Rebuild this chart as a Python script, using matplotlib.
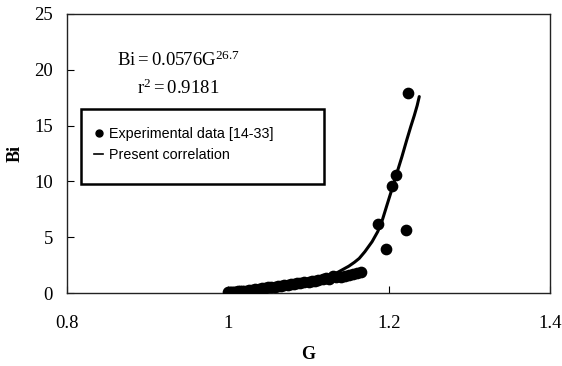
import matplotlib
matplotlib.use('Agg')
import matplotlib.pyplot as plt
from matplotlib.patches import Rectangle
from matplotlib.lines import Line2D

plt.rcParams['font.family'] = 'Liberation Serif'
plt.rcParams['mathtext.fontset'] = 'custom'
plt.rcParams['mathtext.rm'] = 'Liberation Serif'
plt.rcParams['mathtext.it'] = 'Liberation Serif'

g_exp = [1.000, 1.002, 1.004, 1.006, 1.008, 1.010, 1.012, 1.015, 1.018, 1.020,
         1.023, 1.026, 1.030, 1.034, 1.038, 1.042, 1.046, 1.050, 1.054, 1.058,
         1.062, 1.066, 1.070, 1.074, 1.078, 1.082, 1.086, 1.090, 1.095, 1.100,
         1.104, 1.108, 1.112, 1.118, 1.122, 1.126, 1.130, 1.134, 1.140, 1.145,
         1.150, 1.155, 1.160, 1.165,
         1.186, 1.196, 1.204, 1.209, 1.221, 1.224]
bi_exp = [0.05, 0.08, 0.06, 0.10, 0.12, 0.09, 0.14, 0.16, 0.20, 0.18,
          0.22, 0.25, 0.30, 0.33, 0.38, 0.42, 0.45, 0.50, 0.52, 0.58,
          0.62, 0.66, 0.72, 0.75, 0.80, 0.83, 0.88, 0.92, 0.98, 1.02,
          1.08, 1.10, 1.15, 1.25, 1.35, 1.28, 1.55, 1.40, 1.45, 1.50,
          1.60, 1.70, 1.78, 1.90,
          6.2, 3.95, 9.6, 10.6, 5.65, 17.9]

# correlation curve as drawn
g_fit = [1.000, 1.030, 1.060, 1.090, 1.110, 1.125, 1.140, 1.150, 1.157,
         1.163, 1.170, 1.179, 1.186, 1.192, 1.198, 1.2045, 1.210, 1.216,
         1.222, 1.227, 1.2314, 1.235, 1.2376]
bi_fit = [0.06, 0.13, 0.27, 0.58, 0.95, 1.40, 2.00, 2.40, 2.75,
          3.10, 3.70, 4.60, 5.50, 6.60, 8.00, 9.50, 10.8, 12.2,
          13.7, 14.9, 15.9, 16.8, 17.6]

fig = plt.figure(figsize=(5.62, 3.66), dpi=100)
ax = fig.add_axes([67 / 562, 1 - 293 / 366, 483 / 562, 279 / 366])

ax.plot(g_fit, bi_fit, color='black', lw=2.2, zorder=2,
        solid_joinstyle='round', solid_capstyle='round')
ax.scatter(g_exp, bi_exp, s=55, color='black', zorder=3)

ax.set_xlim(0.8, 1.4)
ax.set_ylim(0, 25)
ax.set_xticks([0.8, 1.0, 1.2, 1.4])
ax.set_xticklabels(['0.8', '1', '1.2', '1.4'])
ax.set_yticks([0, 5, 10, 15, 20, 25])
ax.tick_params(direction='in', length=5, labelsize=13.5, pad=10)
ax.tick_params(axis='x', pad=16)
for s in ax.spines.values():
    s.set_linewidth(1.0)
    s.set_color('#222222')

ax.set_xlabel('G', fontsize=13, fontweight='bold', labelpad=10)
ax.set_ylabel('Bi', fontsize=13, fontweight='bold', labelpad=8)

ax.text(0.23, 0.835, r'$\mathrm{Bi = 0.0576G^{26.7}}$', transform=ax.transAxes,
        ha='center', va='center', fontsize=13.5)
ax.text(0.23, 0.735, r'$\mathrm{r^{2} = 0.9181}$', transform=ax.transAxes,
        ha='center', va='center', fontsize=13.5)

# legend box
ax.add_patch(Rectangle((0.029, 0.391), 0.503, 0.268, transform=ax.transAxes,
                       fill=False, edgecolor='black', lw=1.8, zorder=4))
handles = [Line2D([], [], marker='o', color='black', ls='none', markersize=5),
           Line2D([], [], color='black', lw=1.2)]
ax.legend(handles, ['Experimental data [14-33]', 'Present correlation'],
          loc='upper left', bbox_to_anchor=(0.03, 0.642), frameon=False,
          handlelength=0.6, handletextpad=0.4, labelspacing=0.5,
          prop={'family': 'Liberation Sans', 'size': 10.3})

fig.savefig('out.png', dpi=100)
